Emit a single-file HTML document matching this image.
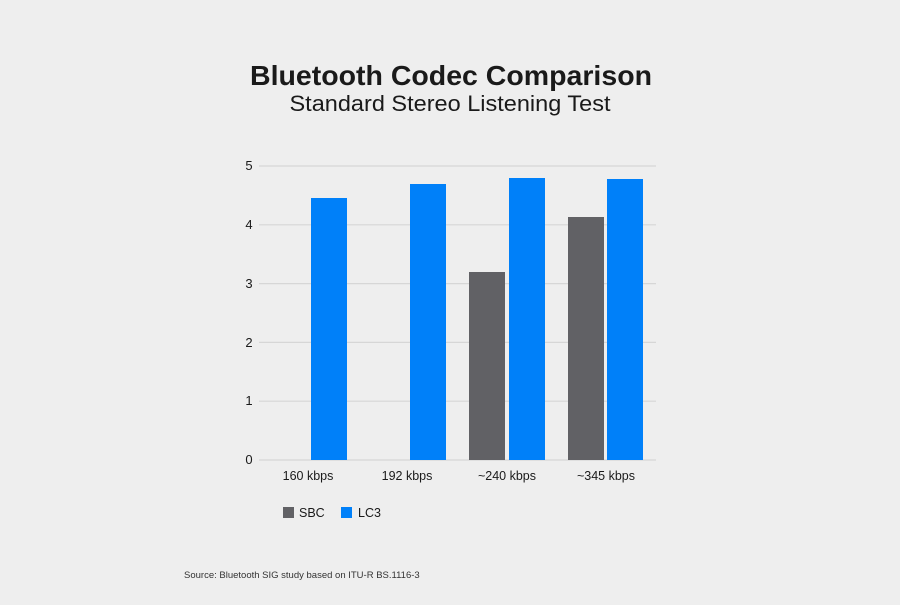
<!DOCTYPE html>
<html><head><style>
body{margin:0;width:900px;height:600px;background:#eeeeee;overflow:hidden;font-family:"Liberation Sans",sans-serif}
</style></head><body>
<svg width="900" height="600" xmlns="http://www.w3.org/2000/svg">
<rect width="900" height="600" fill="#eeeeee"/>
<text x="451" y="85" text-anchor="middle" font-size="28" font-weight="bold" fill="#1a1a1a" textLength="402" lengthAdjust="spacingAndGlyphs">Bluetooth Codec Comparison</text>
<text x="450" y="111" text-anchor="middle" font-size="22" fill="#1a1a1a" textLength="321" lengthAdjust="spacingAndGlyphs">Standard Stereo Listening Test</text>
<g stroke="#d6d6d6" stroke-width="1.2">
<line x1="259" x2="656" y1="166" y2="166"/>
<line x1="259" x2="656" y1="224.8" y2="224.8"/>
<line x1="259" x2="656" y1="283.6" y2="283.6"/>
<line x1="259" x2="656" y1="342.4" y2="342.4"/>
<line x1="259" x2="656" y1="401.2" y2="401.2"/>
<line x1="259" x2="656" y1="460" y2="460"/>
</g>
<g font-size="13" fill="#1a1a1a" text-anchor="middle">
<text x="249" y="170">5</text><text x="249" y="229">4</text><text x="249" y="288">3</text>
<text x="249" y="347">2</text><text x="249" y="405">1</text><text x="249" y="464">0</text>
</g>
<g fill="#0080f9">
<rect x="311" y="198" width="36" height="262"/>
<rect x="410" y="184" width="36" height="276"/>
<rect x="509" y="178" width="36" height="282"/>
<rect x="607" y="179" width="36" height="281"/>
</g>
<g fill="#616165">
<rect x="469" y="272" width="36" height="188"/>
<rect x="568" y="217" width="36" height="243"/>
</g>
<g font-size="12.5" fill="#1a1a1a" text-anchor="middle">
<text x="308" y="480">160 kbps</text><text x="407" y="480">192 kbps</text>
<text x="507" y="480">~240 kbps</text><text x="606" y="480">~345 kbps</text>
</g>
<rect x="283" y="507" width="11" height="11" fill="#616165"/>
<text x="299" y="517" font-size="12.5" fill="#1a1a1a">SBC</text>
<rect x="341" y="507" width="11" height="11" fill="#0080f9"/>
<text x="358" y="517" font-size="12.5" fill="#1a1a1a">LC3</text>
<text x="184" y="578" font-size="9.5" fill="#333">Source: Bluetooth SIG study based on ITU-R BS.1116-3</text>
</svg>
</body></html>
